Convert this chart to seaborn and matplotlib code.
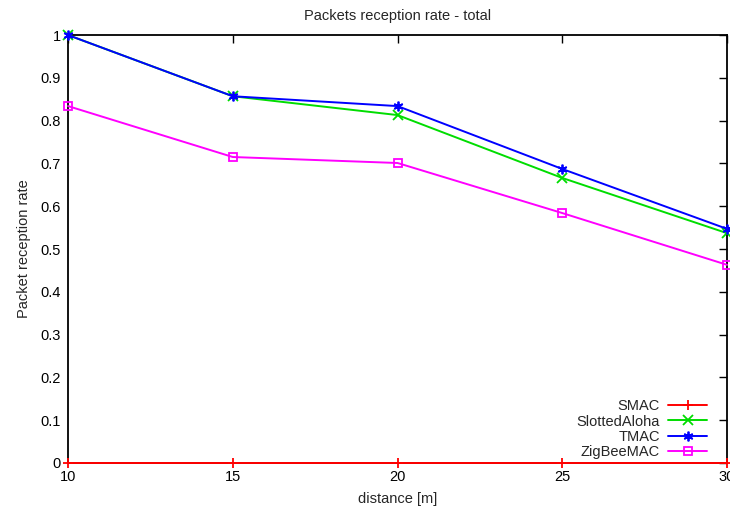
import matplotlib
matplotlib.use("Agg")
import matplotlib.pyplot as plt
import seaborn as sns
import pandas as pd

distance = [10, 15, 20, 25, 30]
smac = [0, 0, 0, 0, 0]
slotted_aloha = [1.0, 0.857, 0.813, 0.666, 0.537]
tmac = [1.0, 0.857, 0.834, 0.687, 0.547]
zigbee = [0.834, 0.715, 0.701, 0.584, 0.463]
series_names = ["SMAC", "SlottedAloha", "TMAC", "ZigBeeMAC"]
y_ticks = [0, 0.1, 0.2, 0.3, 0.4, 0.5, 0.6, 0.7, 0.8, 0.9, 1]
y_tick_labels = ["0", "0.1", "0.2", "0.3", "0.4", "0.5", "0.6", "0.7", "0.8", "0.9", "1"]

sns.set_theme(style="white")
plt.rcParams['font.family'] = ['Liberation Sans', 'DejaVu Sans']

fig = plt.figure(figsize=(7.3, 5.08), dpi=100)
ax = fig.add_axes([0.0932, 0.0886, 0.9028, 0.8424])

values = [smac, slotted_aloha, tmac, zigbee]
colors = ["#ff0000", "#00dd00", "#0000ff", "#ff00ff"]
markers = ["+", "x", (6, 2, 0), "s"]
msizes = [7, 7, 7, 6]

for name, vals, c, m, ms in zip(series_names, values, colors, markers, msizes):
    df = pd.DataFrame({"distance": distance, "rate": vals})
    sns.lineplot(data=df, x="distance", y="rate", ax=ax, color=c, marker=m,
                 markersize=ms, markerfacecolor="none", markeredgecolor=c,
                 markeredgewidth=1.3, linewidth=1.4, label=name, clip_on=False,
                 zorder=3)

ax.set_xlim(10, 30)
ax.set_ylim(0, 1)
ax.set_xticks(distance)
ax.set_xticklabels([str(d) for d in distance])
ax.set_yticks(y_ticks)
ax.set_yticklabels(y_tick_labels)
ax.tick_params(direction="in", length=6, width=1, top=True, right=True,
               labelsize=10.5, colors="#000000", pad=5)
for sp in ax.spines.values():
    sp.set_color("black")
    sp.set_linewidth(1.3)

ax.set_title("Packets reception rate - total", fontsize=10.5, pad=11)
ax.set_xlabel("distance [m]", fontsize=10.5, labelpad=6)
ax.set_ylabel("Packet reception rate", fontsize=10.5, labelpad=7)

leg = ax.legend(loc="lower right", frameon=False, markerfirst=False,
                fontsize=10.5, handlelength=2.7, labelspacing=0.08,
                borderaxespad=0.0, handletextpad=0.55, numpoints=1,
                bbox_to_anchor=(0.979, -0.004))

fig.savefig("out.png", dpi=100)
